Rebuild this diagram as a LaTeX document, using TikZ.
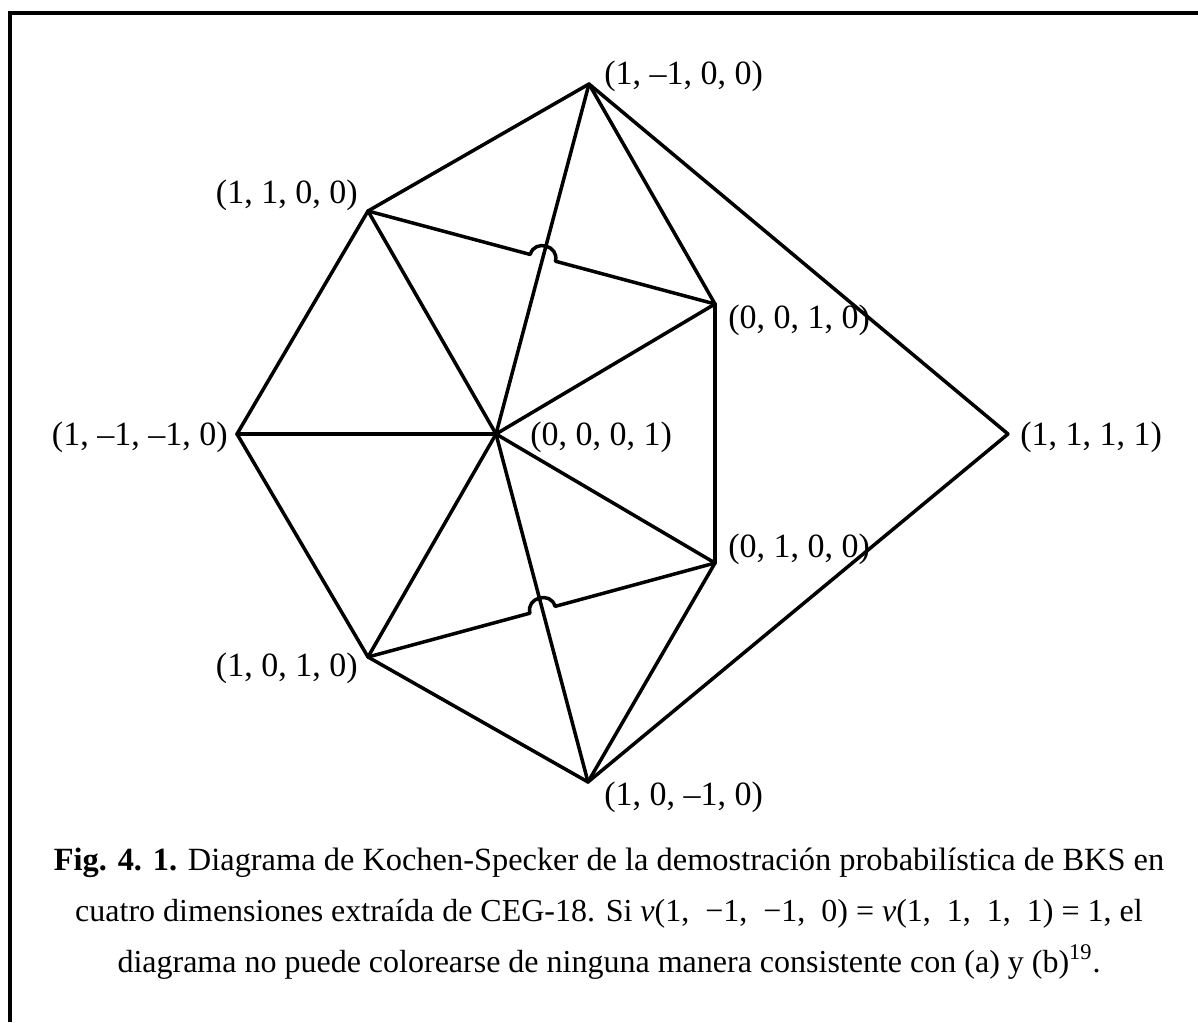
\documentclass[tikz,border=0pt]{standalone}
\usepackage{fontspec}
\setmainfont{Liberation Serif}
\usetikzlibrary{calc}
\begin{document}
\begin{tikzpicture}[x=0.5pt,y=-0.5pt,
  edge/.style={line width=1.75pt, line join=round, line cap=round},
  lbl/.style={font=\fontsize{17}{20}\selectfont, inner sep=0pt},
  captext/.style={font=\fontsize{16}{19}\selectfont, inner sep=0pt, anchor=base},
  hop/.style={bend left=90, looseness=1.6}]
\useasboundingbox (0,0) rectangle (1198,1022);
\draw[line width=2pt] (9.5,1022) -- (9.5,13) -- (1198,13);
% vertices
\coordinate (A) at (589,84);
\coordinate (B) at (368,211);
\coordinate (C) at (715,304);
\coordinate (D) at (237,434);
\coordinate (E) at (496,434);
\coordinate (F) at (1008,434);
\coordinate (G) at (715,563);
\coordinate (H) at (368,657);
\coordinate (I) at (588,782);
% straight edges
\draw[edge] (A) -- (B);
\draw[edge] (A) -- (C);
\draw[edge] (A) -- (F);
\draw[edge] (A) -- (E);
\draw[edge] (B) -- (D);
\draw[edge] (B) -- (E);
\draw[edge] (C) -- (E);
\draw[edge] (C) -- (G);
\draw[edge] (D) -- (E);
\draw[edge] (D) -- (H);
\draw[edge] (E) -- (G);
\draw[edge] (E) -- (H);
\draw[edge] (E) -- (I);
\draw[edge] (G) -- (I);
\draw[edge] (H) -- (I);
\draw[edge] (F) -- (I);
% edges with hops
\coordinate (P1) at (intersection of A--E and B--C);
\coordinate (P2) at (intersection of E--I and H--G);
\draw[edge] (B) -- ($(P1)!6.5pt!(B)$) to[hop] ($(P1)!6.5pt!(C)$) -- (C);
\draw[edge] (H) -- ($(P2)!6.5pt!(H)$) to[hop] ($(P2)!6.5pt!(G)$) -- (G);
% labels
\node[lbl, anchor=base west] (lA) at (604,85) {(1, –1, 0, 0)};
\node[lbl, anchor=base east] (lB) at (358,203) {(1, 1, 0, 0)};
\node[lbl, anchor=base west] (lC) at (728,328) {(0, 0, 1, 0)};
\node[lbl, anchor=base east] (lD) at (228,445) {(1, –1, –1, 0)};
\node[lbl, anchor=base west] (lE) at (530,445) {(0, 0, 0, 1)};
\node[lbl, anchor=base west] (lF) at (1020,445) {(1, 1, 1, 1)};
\node[lbl, anchor=base west] (lG) at (728,557) {(0, 1, 0, 0)};
\node[lbl, anchor=base east] (lH) at (358,676) {(1, 0, 1, 0)};
\node[lbl, anchor=base west] (lI) at (604,805) {(1, 0, –1, 0)};
% caption
\node[captext, font=\fontsize{16.2}{19}\selectfont] (cap1) at (609,870) {\textbf{Fig. 4. 1.} Diagrama de Kochen-Specker de la demostración probabilística de BKS en};
\node[captext] (cap2) at (609,921) {cuatro dimensiones extraída de CEG-18. Si \textit{v}(1,\ \ −1,\ \ −1,\ \ 0) = \textit{v}(1,\ \ 1,\ \ 1,\ \ 1) = 1, el};
\node[captext] (cap3) at (609,972) {diagrama no puede colorearse de ninguna manera consistente con (a) y (b)\textsuperscript{19}.};
\end{tikzpicture}
\end{document}
